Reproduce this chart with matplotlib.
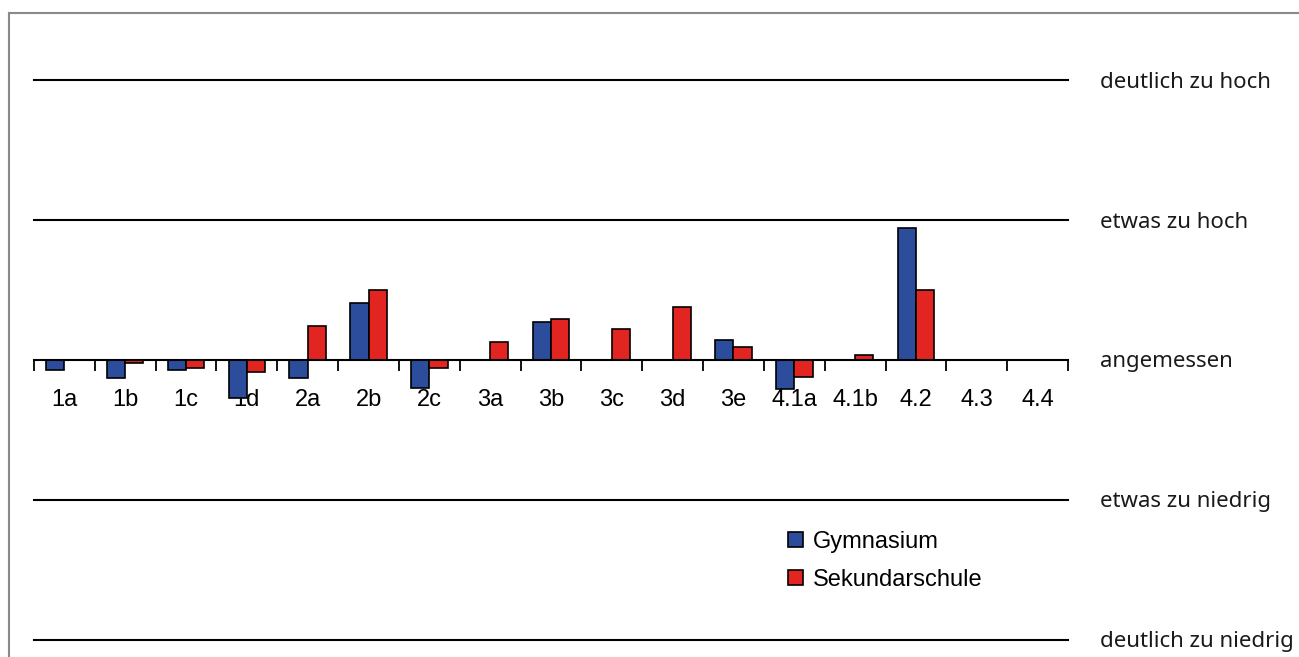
import matplotlib.pyplot as plt
from matplotlib.lines import Line2D
import numpy as np

categories = ["1a", "1b", "1c", "1d", "2a", "2b", "2c", "3a", "3b", "3c",
              "3d", "3e", "4.1a", "4.1b", "4.2", "4.3", "4.4"]
gymnasium = [-0.07, -0.13, -0.07, -0.27, -0.13, 0.41, -0.20, 0.0, 0.27, 0.0,
             0.0, 0.14, -0.21, 0.0, 0.94, 0.0, 0.0]
sekundar = [0.0, -0.02, -0.06, -0.085, 0.24, 0.50, -0.06, 0.13, 0.29, 0.22,
            0.38, 0.09, -0.12, 0.035, 0.50, 0.0, 0.0]
levels = [2, 1, 0, -1, -2]
level_labels = ["deutlich zu hoch", "etwas zu hoch", "angemessen",
                "etwas zu niedrig", "deutlich zu niedrig"]

W, H = 1299, 657
fig = plt.figure(figsize=(W / 100, H / 100), dpi=100)
ax = fig.add_axes([34 / W, 1 - 640 / H, (1068 - 34) / W, (640 - 80) / H])

n = len(categories)
x = np.arange(n)
bw = 0.3
blue = "#2c4c9c"
red = "#e32522"
ax.bar(x - bw / 2, gymnasium, bw, color=blue, edgecolor="black", linewidth=1.2,
       label="Gymnasium", zorder=3)
ax.bar(x + bw / 2, sekundar, bw, color=red, edgecolor="black", linewidth=1.2,
       label="Sekundarschule", zorder=3)

for lv in levels:
    if lv != 0:
        ax.axhline(lv, color="black", linewidth=1.5, clip_on=False, zorder=1)

ax.set_xlim(-0.5, n - 0.5)
ax.set_ylim(-2, 2)

for s in ["top", "right", "left"]:
    ax.spines[s].set_visible(False)
ax.spines["bottom"].set_position(("data", 0))
ax.spines["bottom"].set_linewidth(1.5)
ax.spines["bottom"].set_zorder(4)

ax.set_xticks(x)
ax.set_xticklabels(categories, fontsize=17, family="Liberation Sans")
ax.set_xticks(np.arange(n + 1) - 0.5, minor=True)
ax.tick_params(axis="x", which="major", length=0, pad=21)
ax.tick_params(axis="x", which="minor", length=8, width=1.3, direction="out")
ax.set_yticks([])

for lv, lab in zip(levels, level_labels):
    ax.text(1100 / W, 1 - (642 - (lv + 2) * 140) / H, lab, transform=fig.transFigure,
            ha="left", va="center", fontsize=16, family="Noto Sans", color="#1a1a1a")

ax.legend(loc="upper left", bbox_to_anchor=(788 / W, 1 - 531 / H),
          bbox_transform=fig.transFigure, frameon=False,
          prop={"family": "Liberation Sans", "size": 17},
          handlelength=0.62, handleheight=0.62, handletextpad=0.42,
          labelspacing=0.66, borderpad=0, borderaxespad=0)

# partial border around the chart area
fig.add_artist(Line2D([9 / W, 1], [1 - 13 / H, 1 - 13 / H], color="#8a8a8a", linewidth=1.5))
fig.add_artist(Line2D([9 / W, 9 / W], [0, 1 - 13 / H], color="#8a8a8a", linewidth=1.5))

fig.savefig("out.png", dpi=100)
